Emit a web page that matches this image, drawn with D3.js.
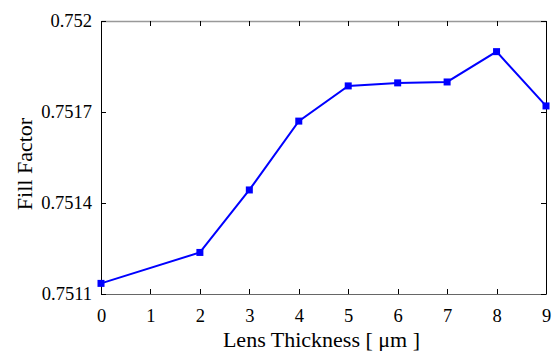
<!DOCTYPE html>
<html>
<head>
<meta charset="utf-8">
<script src="https://cdn.jsdelivr.net/npm/d3@7"></script>
<style>
  html, body { margin: 0; padding: 0; background: #fff; }
</style>
</head>
<body>
<div id="chart"></div>
<script>
// data
const thickness = [0, 2, 3, 4, 5, 6, 7, 8, 9]
const fillFactor = [0.751135, 0.751237, 0.751443, 0.75167, 0.751786, 0.751796, 0.751799, 0.751899, 0.75172]
const xTicks = [0, 1, 2, 3, 4, 5, 6, 7, 8, 9]
const yTicks = [0.7511, 0.7514, 0.7517, 0.752]
const yTickLabels = ['0.7511', '0.7514', '0.7517', '0.752']

const W = 555, H = 351
const m = { top: 21, right: 9, bottom: 57, left: 101 }
const iw = W - m.left - m.right
const ih = H - m.top - m.bottom
const serif = 'Liberation Serif'

const svg = d3.select('#chart').append('svg')
  .attr('width', W).attr('height', H)

const x = d3.scaleLinear().domain([0, 9]).range([m.left, m.left + iw])
const y = d3.scaleLinear().domain([0.7511, 0.752]).range([m.top + ih, m.top])

// ── Axes (ticks point inward, like the original) ──
const tickLen = 5
const gx = svg.append('g')
  .attr('transform', `translate(0,${m.top + ih})`)
  .call(d3.axisBottom(x).tickValues(xTicks).tickSizeInner(-tickLen).tickSizeOuter(0).tickPadding(15).tickFormat(d3.format('d')))
gx.select('.domain').attr('stroke', '#666')

svg.append('g')
  .attr('transform', `translate(0,${m.top})`)
  .call(d3.axisTop(x).tickValues(xTicks).tickSizeInner(-tickLen).tickSizeOuter(0).tickFormat(''))
  .call(g => g.select('.domain').attr('stroke', '#999').attr('stroke-width', 1.5))

const gy = svg.append('g')
  .attr('transform', `translate(${m.left},0)`)
  .call(d3.axisLeft(y).tickValues(yTicks).tickSizeInner(-tickLen).tickSizeOuter(0).tickPadding(9).tickFormat((d, i) => yTickLabels[i]))

svg.append('g')
  .attr('transform', `translate(${m.left + iw},0)`)
  .call(d3.axisRight(y).tickValues(yTicks).tickSizeInner(-tickLen).tickSizeOuter(0).tickFormat(''))

// serif tick labels, set on the text nodes themselves
gx.selectAll('.tick text').attr('fill', '#000').attr('font-family', serif).attr('font-size', 18.5)
gy.selectAll('.tick text').attr('fill', '#000').attr('font-family', serif).attr('font-size', 18.5)
svg.selectAll('.tick line').attr('shape-rendering', 'crispEdges')

// ── Series ──
const pts = thickness.map((t, i) => [t, fillFactor[i]])
svg.append('path')
  .datum(pts)
  .attr('fill', 'none')
  .attr('stroke', '#0000ff')
  .attr('stroke-width', 2)
  .attr('d', d3.line().x(d => x(d[0])).y(d => y(d[1])))

const ms = 7
svg.append('g').selectAll('rect')
  .data(pts)
  .join('rect')
  .attr('x', d => x(d[0]) - ms / 2)
  .attr('y', d => y(d[1]) - ms / 2)
  .attr('width', ms).attr('height', ms)
  .attr('fill', '#0000ff')

// ── Labels ──
svg.append('text')
  .attr('x', m.left + iw / 2 - 2).attr('y', 347)
  .attr('text-anchor', 'middle')
  .attr('font-family', serif).attr('font-size', 22)
  .text('Lens Thickness [ \u03bcm ]')

svg.append('text')
  .attr('transform', 'translate(32,164) rotate(-90)')
  .attr('text-anchor', 'middle')
  .attr('font-family', serif).attr('font-size', 22)
  .text('Fill Factor')
</script>
</body>
</html>
